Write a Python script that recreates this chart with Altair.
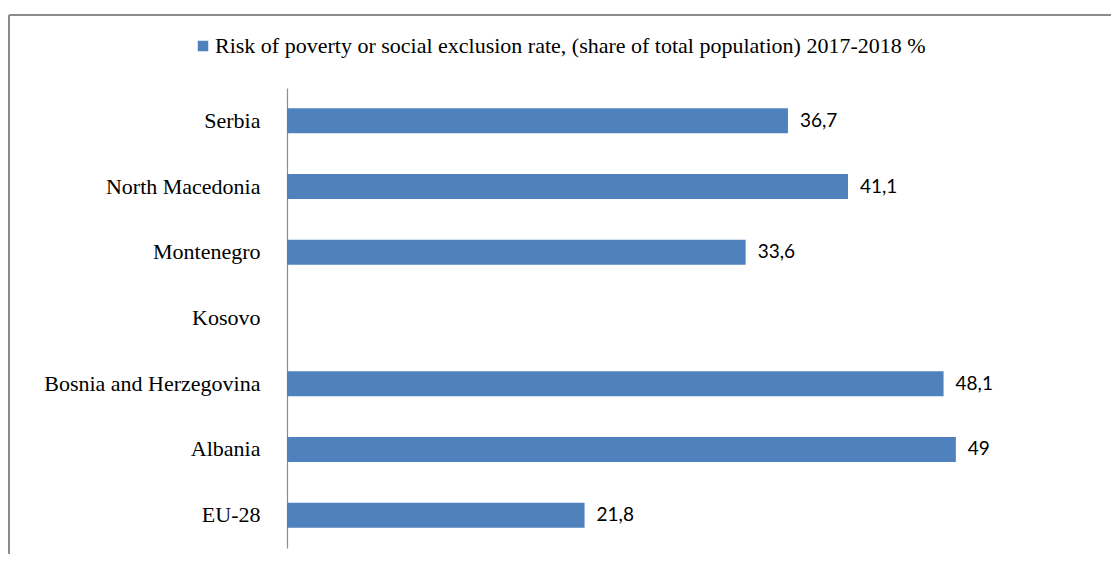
import altair as alt
import pandas as pd

countries = ["Serbia", "North Macedonia", "Montenegro", "Kosovo",
             "Bosnia and Herzegovina", "Albania", "EU-28"]
values = [36.7, 41.1, 33.6, None, 48.1, 49.0, 21.8]
value_labels = ["36,7", "41,1", "33,6", "", "48,1", "49", "21,8"]
series_name = "Risk of poverty or social exclusion rate, (share of total population) 2017-2018 %"

df = pd.DataFrame({
    "country": countries,
    "value": values,
    "label": value_labels,
    "series": [series_name] * len(countries),
})

y_enc = alt.Y("country:N", sort=countries, title=None,
              scale=alt.Scale(paddingInner=0.62, paddingOuter=0.31),
              axis=alt.Axis(domainColor="#8c8c8c", domainWidth=1.2, ticks=False,
                            grid=False, labelFont="Liberation Serif", labelFontSize=22,
                            labelColor="#000000", labelPadding=27, labelLimit=400))
x_scale = alt.Scale(domain=[0, 60], nice=False)

bars = alt.Chart(df).mark_bar(color="#4f81bd").encode(
    y=y_enc,
    x=alt.X("value:Q", scale=x_scale, axis=None),
    color=alt.Color("series:N", scale=alt.Scale(range=["#4f81bd"]),
                    legend=alt.Legend(title=None, orient="none", legendX=-95, legendY=-53,
                                      symbolType="square", symbolSize=110,
                                      symbolStrokeWidth=0,
                                      labelFont="Liberation Serif", labelFontSize=22,
                                      labelColor="#000000", labelLimit=1000, labelOffset=1)),
)

text = alt.Chart(df).mark_text(align="left", baseline="middle", dx=12,
                               font="Lato", fontSize=19, color="#000000").encode(
    y=alt.Y("country:N", sort=countries),
    x=alt.X("value:Q", scale=x_scale),
    text="label:N",
)

frame_top = alt.Chart(df).mark_rule(color="#8c8c8c", strokeWidth=1.5).encode(
    x=alt.value(-278), x2=alt.value(840), y=alt.value(-73))
frame_left = alt.Chart(df).mark_rule(color="#8c8c8c", strokeWidth=1.5).encode(
    x=alt.value(-278), y=alt.value(-73), y2=alt.value(480))

chart = alt.layer(frame_top, frame_left, bars, text).properties(
    width=819, height=460,
    autosize=alt.AutoSizeParams(type="none"),
    padding={"left": 279, "top": 80, "right": 5, "bottom": 6},
).configure_view(stroke=None)

chart.save("out.html", embed_options={"renderer": "svg", "actions": False})
